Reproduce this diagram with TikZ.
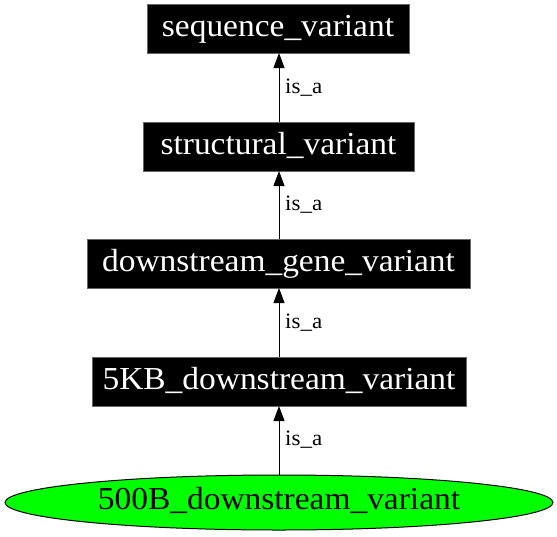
\documentclass[tikz,border=0pt]{standalone}
\usepackage{fontspec}
\setmainfont{Liberation Serif}[FakeStretch=1.045]
\usetikzlibrary{arrows.meta,shapes.geometric}
\begin{document}
\begin{tikzpicture}[x=1pt,y=1pt,
  termbox/.style={rectangle,fill=black,draw=black!60,line width=0.8pt,text=white,inner sep=0pt,
    font=\fontsize{32}{38}\selectfont,text height=20pt,text depth=5pt,minimum height=49pt},
  leafnode/.style={ellipse,fill=green,draw=black,line width=1pt,inner sep=0pt,
    font=\fontsize{32}{38}\selectfont,text height=20pt,text depth=7pt,
    minimum width=548pt,minimum height=55pt},
  isa/.style={draw=black,line width=0.9pt,-{Triangle[length=15pt,width=11pt]}},
  elabel/.style={font=\fontsize{22}{26}\selectfont,inner sep=0pt,anchor=west}]
\useasboundingbox (0,0) rectangle (557,-536);
\node[termbox,minimum width=262pt] (sv) at (278,-28.5) {sequence\_variant};
\node[termbox,minimum width=271pt] (st) at (278.5,-146.5) {structural\_variant};
\node[termbox,minimum width=383pt] (dg) at (278.5,-263.5) {downstream\_gene\_variant};
\node[termbox,minimum width=374pt] (fk) at (279,-381.5) {5KB\_downstream\_variant};
\node[leafnode] (fb) at (279,-502.5) {500B\_downstream\_variant};
\coordinate (s1) at (279,-53);
\coordinate (e1) at (279,-122);
\coordinate (s2) at (279,-171);
\coordinate (e2) at (279,-239);
\coordinate (s3) at (279,-288);
\coordinate (e3) at (279,-357);
\coordinate (s4) at (279,-406);
\coordinate (e4) at (279,-475);
\draw[isa] (e1) -- (s1);
\draw[isa] (e2) -- (s2);
\draw[isa] (e3) -- (s3);
\draw[isa] (e4) -- (s4);
\node[elabel] (l1) at (285,-88) {is\_a};
\node[elabel] (l2) at (285,-205) {is\_a};
\node[elabel] (l3) at (285,-323) {is\_a};
\node[elabel] (l4) at (285,-440) {is\_a};
\end{tikzpicture}
\end{document}
